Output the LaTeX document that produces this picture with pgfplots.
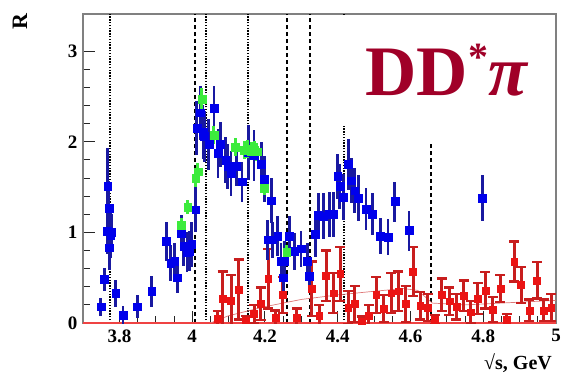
\documentclass[border=0pt]{standalone}
\usepackage{fontspec}
\setmainfont{Liberation Serif}
\usepackage{pgfplots}
\pgfplotsset{compat=1.18}
\usepackage{pgfplotstable}

\definecolor{bmark}{RGB}{0,0,235}
\definecolor{berr}{RGB}{25,25,160}
\definecolor{gmark}{RGB}{60,235,60}
\definecolor{rmark}{RGB}{235,20,20}
\definecolor{rerr}{RGB}{200,30,30}
\definecolor{titlered}{RGB}{160,0,40}

\pgfplotstableread{
x y e
3.749 0.18 0.10
3.758 0.48 0.13
3.766 1.01 0.25
3.768 1.51 0.42
3.771 1.27 0.30
3.773 0.83 0.25
3.776 0.97 0.25
3.779 1.00 0.20
3.790 0.33 0.15
3.810 0.09 0.10
3.849 0.18 0.13
3.889 0.35 0.17
3.929 0.90 0.22
3.941 0.66 0.20
3.952 0.68 0.20
3.959 0.50 0.17
3.970 0.99 0.20
3.977 0.85 0.22
3.986 0.78 0.22
3.993 0.79 0.22
3.999 0.87 0.25
4.010 1.25 0.25
4.013 2.15 0.30
4.022 2.32 0.30
4.030 2.11 0.30
4.034 2.06 0.28
4.046 1.97 0.28
4.060 2.37 0.25
4.071 1.87 0.27
4.078 1.97 0.25
4.092 1.80 0.25
4.098 1.73 0.25
4.107 1.65 0.25
4.121 1.73 0.22
4.137 1.56 0.22
4.155 1.88 0.30
4.170 1.85 0.28
4.190 1.75 0.25
4.199 1.59 0.25
4.217 1.35 0.25
4.208 0.92 0.22
4.220 0.92 0.20
4.235 0.96 0.22
4.244 0.68 0.20
4.250 0.50 0.20
4.253 0.68 0.22
4.267 0.96 0.22
4.281 0.79 0.20
4.299 0.82 0.20
4.317 0.68 0.20
4.322 0.52 0.18
4.338 0.98 0.25
4.347 1.19 0.25
4.360 1.18 0.25
4.377 1.20 0.25
4.388 1.20 0.25
4.400 1.62 0.25
4.406 1.51 0.25
4.416 1.39 0.25
4.429 1.75 0.28
4.438 1.57 0.25
4.447 1.46 0.25
4.457 1.38 0.25
4.478 1.26 0.23
4.495 1.20 0.23
4.517 0.96 0.20
4.538 0.95 0.20
4.557 1.34 0.22
4.596 1.02 0.22
4.797 1.38 0.25
}\bluedata

\pgfplotstableread{
x y e
3.970 1.08 0.08
3.988 1.28 0.08
4.010 1.60 0.10
4.016 1.67 0.10
4.027 2.47 0.12
4.060 2.07 0.10
4.118 1.94 0.10
4.144 1.91 0.10
4.153 1.92 0.10
4.162 1.90 0.10
4.171 1.91 0.10
4.178 1.89 0.10
4.199 1.49 0.08
4.260 0.78 0.08
}\greendata

\pgfplotstableread{
x y e
4.071 0.05 0.08
4.084 0.27 0.30
4.107 0.25 0.28
4.128 0.37 0.33
4.148 0.03 0.05
4.170 0.10 0.10
4.189 0.21 0.18
4.209 0.49 0.33
4.229 0.06 0.08
4.249 0.31 0.20
4.288 0.06 0.10
4.328 0.38 0.30
4.349 0.08 0.12
4.368 0.52 0.28
4.388 0.33 0.22
4.407 0.54 0.30
4.429 0.17 0.18
4.447 0.21 0.20
4.466 0.02 0.05
4.486 0.08 0.12
4.506 0.31 0.20
4.527 0.16 0.15
4.547 0.33 0.22
4.567 0.35 0.22
4.587 0.21 0.20
4.607 0.57 0.27
4.627 0.19 0.15
4.648 0.17 0.15
4.667 0.04 0.05
4.686 0.31 0.18
4.707 0.24 0.15
4.726 0.18 0.14
4.747 0.30 0.17
4.766 0.12 0.12
4.785 0.27 0.17
4.806 0.36 0.20
4.826 0.15 0.14
4.847 0.38 0.15
4.865 0.04 0.06
4.885 0.68 0.22
4.904 0.42 0.20
4.927 0.14 0.12
4.948 0.47 0.20
4.966 0.14 0.12
4.987 0.17 0.15
}\reddata

\begin{document}
\begin{tikzpicture}
\path[use as bounding box] (0pt,0pt) rectangle (561pt,376pt);
\begin{axis}[
  at={(83pt,53pt)}, anchor=south west,
  scale only axis, width=473pt, height=309pt,
  xmin=3.7, xmax=5.0, ymin=0, ymax=3.41,
  xtick={3.8,4,4.2,4.4,4.6,4.8,5},
  xticklabels={3.8,4,4.2,4.4,4.6,4.8,5},
  ytick={0,1,2,3},
  yticklabels={0,1,2,3},
  minor x tick num=3, minor y tick num=4,
  tick pos=left, tick align=inside,
  major tick length=12pt, minor tick length=7pt,
  tick style={black!85, line width=0.9pt},
  axis line style={gray, line width=1.2pt},
  ticklabel style={font=\fontsize{19}{19}\selectfont\bfseries},
  xticklabel style={yshift=-3pt},
  yticklabel style={xshift=-2pt},
]
% vertical resonance lines
\addplot[black, line width=2pt, dash pattern=on 1.5pt off 1.3pt] coordinates {(3.773,0) (3.773,3.41)};
\addplot[black, line width=2pt, dash pattern=on 4.5pt off 2.5pt] coordinates {(4.007,0) (4.007,3.41)};
\addplot[black, line width=2pt, dash pattern=on 1.5pt off 1.3pt] coordinates {(4.039,0) (4.039,3.41)};
\addplot[black, line width=2pt, dash pattern=on 1.5pt off 1.3pt] coordinates {(4.153,0) (4.153,3.41)};
\addplot[black, line width=2pt, dash pattern=on 4.5pt off 2.5pt] coordinates {(4.260,0) (4.260,3.41)};
\addplot[black, line width=2pt, dash pattern=on 4.5pt off 2.5pt] coordinates {(4.324,0) (4.324,3.41)};
\addplot[black, line width=2pt, dash pattern=on 1.5pt off 1.3pt] coordinates {(4.418,0) (4.418,3.41)};
\addplot[black, line width=2pt, dash pattern=on 4.5pt off 2.5pt] coordinates {(4.656,0) (4.656,2.0)};
% zero line
\addplot[rmark!80!white, line width=1.2pt] coordinates {(3.7,0) (5.0,0)};
% red fit curve
\addplot[rerr!60!white, line width=0.7pt] coordinates {(4.05,0) (4.10,0.08) (4.20,0.18) (4.30,0.26) (4.40,0.31) (4.50,0.35) (4.58,0.38) (4.62,0.36) (4.66,0.22) (4.75,0.20) (4.85,0.22) (5.0,0.25)};
% red data
\addplot[only marks, mark=square*, mark size=3.4pt, mark options={fill=rmark, draw=rmark},
  error bars/.cd, y dir=both, y explicit,
  error bar style={draw=rerr, line width=3pt},
  error mark=-,
  error mark options={draw=rerr, line width=2.4pt, mark size=5pt, rotate=90}]
  table[x=x, y=y, y error=e]{\reddata};
% blue data
\addplot[only marks, mark=square*, mark size=3.9pt, mark options={fill=bmark, draw=bmark},
  error bars/.cd, y dir=both, y explicit,
  error bar style={berr, line width=2.8pt}, error mark=none]
  table[x=x, y=y, y error=e]{\bluedata};
% green data
\addplot[only marks, mark=square*, mark size=3.9pt, mark options={fill=gmark, draw=gmark},
  error bars/.cd, y dir=both, y explicit,
  error bar style={gmark, line width=3pt}, error mark=none]
  table[x=x, y=y, y error=e]{\greendata};
% white box behind label
\fill[white] (axis cs:4.404,2.18) rectangle (axis cs:4.996,3.40);
\end{axis}
\node[rotate=90, font=\fontsize{22}{22}\selectfont\bfseries] at (20pt,354pt) {R};
\node[font=\fontsize{20}{20}\selectfont\bfseries] at (518pt,13pt) {√s, GeV};
\node[anchor=base, text=titlered, font=\fontsize{71}{71}\selectfont\bfseries, inner sep=0pt] at (447pt,281pt)
  {DD\raisebox{25pt}{\fontsize{40}{40}\selectfont *}\textit{π}};
\end{tikzpicture}
\end{document}
